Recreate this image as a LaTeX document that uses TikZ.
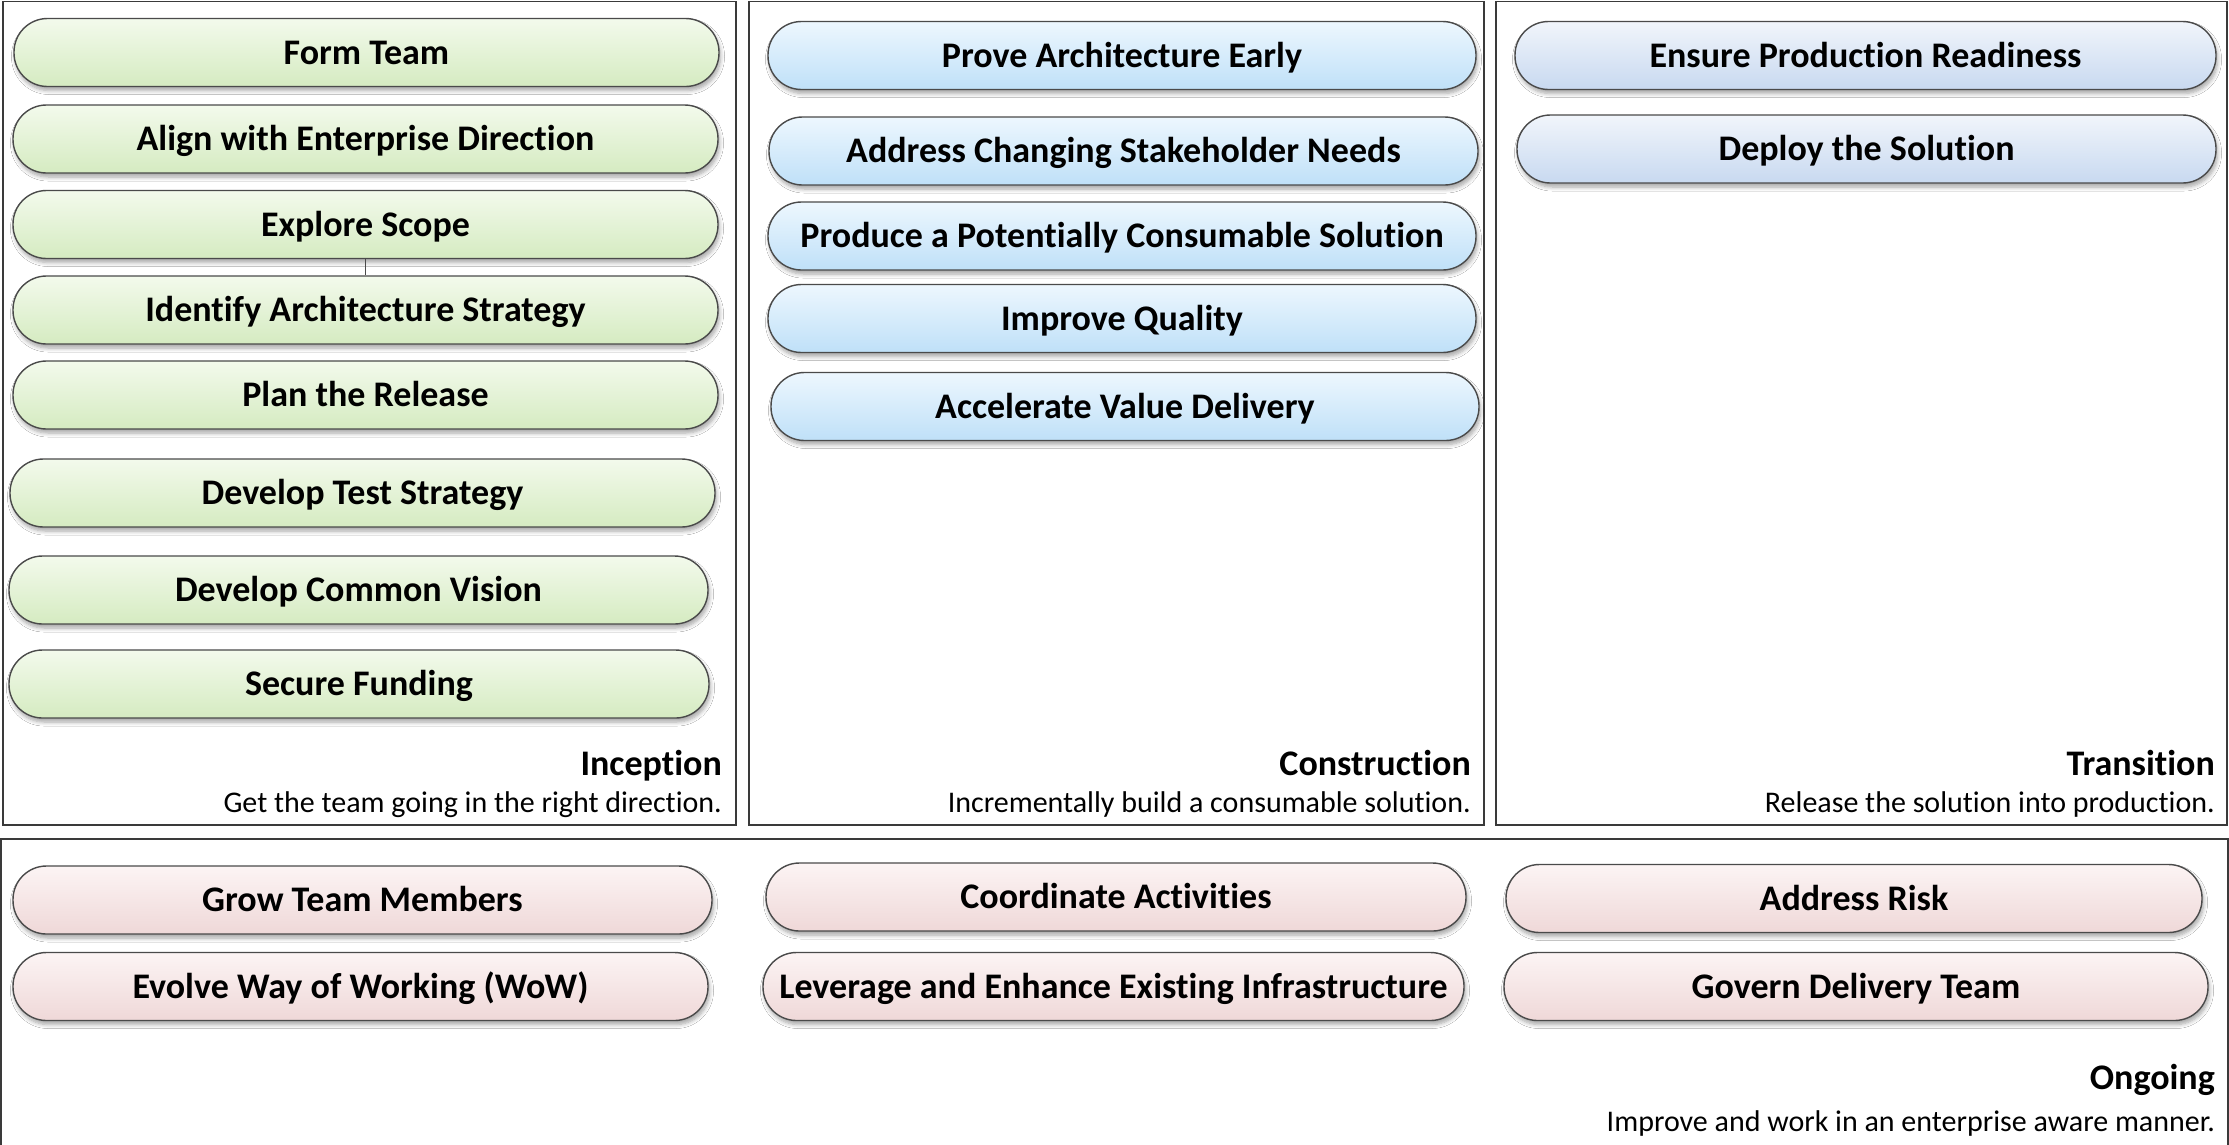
\documentclass[tikz,border=0pt]{standalone}
\usepackage{fontspec}
\setmainfont{Carlito}[RawFeature={-liga;-clig;-dlig}]
\usetikzlibrary{shadows.blur}
\definecolor{gtop}{HTML}{F3FAEC}
\definecolor{gbot}{HTML}{D5EBC1}
\definecolor{btop}{HTML}{EDF7FE}
\definecolor{bbot}{HTML}{BFE0F8}
\definecolor{ttop}{HTML}{F1F5FB}
\definecolor{tbot}{HTML}{C8D9F0}
\definecolor{ptop}{HTML}{FCF4F4}
\definecolor{pbot}{HTML}{EFD8D8}
\definecolor{pillline}{HTML}{4A4A4A}
\definecolor{panelline}{HTML}{3A3A3A}
\newcommand\pillfnt{\fontsize{36}{43}\selectfont\bfseries}
\newcommand\headfnt{\fontsize{36}{43}\selectfont\bfseries}
\newcommand\subfnt{\fontsize{30}{36}\selectfont}
\tikzset{
  pill/.style={draw=pillline, line width=1.4pt, rounded corners=33.5pt,
    minimum height=68pt, inner sep=0pt, text height=23.2pt, text depth=0pt,
    font=\pillfnt,
    blur shadow={shadow xshift=1.5pt, shadow yshift=-4pt, shadow blur radius=4pt,
      shadow opacity=35, shadow blur steps=6}},
  greenpill/.style={pill, top color=gtop, bottom color=gbot},
  bluepill/.style={pill, top color=btop, bottom color=bbot},
  transpill/.style={pill, top color=ttop, bottom color=tbot},
  pinkpill/.style={pill, top color=ptop, bottom color=pbot},
  panel/.style={draw=panelline, line width=1.3pt},
  head/.style={anchor=base east, font=\headfnt, inner sep=0pt},
  sub/.style={anchor=base east, font=\subfnt, inner sep=0pt},
  link/.style={draw=pillline, line width=1.2pt}
}
\begin{document}
\begin{tikzpicture}[x=1pt,y=-1pt]
\useasboundingbox (0,0) rectangle (2229,1144);
\fill[white] (0,0) rectangle (2229,1144);
% panels
\draw[panel] (3,1.5) rectangle (736,825);
\draw[panel] (749,1.5) rectangle (1484,825);
\draw[panel] (1496,1.5) rectangle (2227,825);
\draw[panel] (1,839) rectangle (2228,1160);
% Inception
\node[greenpill, minimum width=705pt] (ft) at (366.5,52.5) {Form Team};
\node[greenpill, minimum width=705pt] (al) at (365.5,139) {Align with Enterprise Direction};
\node[greenpill, minimum width=705pt] (es) at (365.5,224.5) {Explore Scope};
\node[greenpill, minimum width=705pt] (ia) at (365.5,310) {Identify Architecture Strategy};
\node[greenpill, minimum width=705pt] (pr) at (365.5,395) {Plan the Release};
\node[greenpill, minimum width=705pt] (dt) at (362.5,493) {Develop Test Strategy};
\node[greenpill, minimum width=699pt] (dv) at (358.5,590) {Develop Common Vision};
\node[greenpill, minimum width=700pt] (sf) at (359,684) {Secure Funding};
\draw[link] (es.south) -- (ia.north);
\node[head] (ih) at (722,775) {Inception};
\node[sub] (is) at (722,812) {Get the team going in the right direction.};
% Construction
\node[bluepill, minimum width=708pt] (pa) at (1122,55.5) {Prove Architecture Early};
\node[bluepill, minimum width=709pt] (ac) at (1123.5,151) {Address Changing Stakeholder Needs};
\node[bluepill, minimum width=708pt] (pp) at (1122,236) {Produce a Potentially Consumable Solution};
\node[bluepill, minimum width=708pt] (iq) at (1122,318.5) {Improve Quality};
\node[bluepill, minimum width=708pt] (av) at (1125,406.5) {Accelerate Value Delivery};
\node[head] (ch) at (1471,775) {Construction};
\node[sub] (cs) at (1471,812) {Incrementally build a consumable solution.};
% Transition
\node[transpill, minimum width=701pt] (ep) at (1865.5,55.5) {Ensure Production Readiness};
\node[transpill, minimum width=699pt] (ds) at (1866.5,149) {Deploy the Solution};
\node[head] (th) at (2215,775) {Transition};
\node[sub] (ts) at (2215,812) {Release the solution into production.};
% Ongoing
\node[pinkpill, minimum width=699pt] (gt) at (362.5,900) {Grow Team Members};
\node[pinkpill, minimum width=695pt] (ev) at (360.5,986.5) {Evolve Way of Working (WoW)};
\node[pinkpill, minimum width=700pt] (ca) at (1116,897) {Coordinate Activities};
\node[pinkpill, minimum width=701pt] (le) at (1113.5,986.5) {Leverage and Enhance Existing Infrastructure};
\node[pinkpill, minimum width=696pt] (ar) at (1854,898.5) {Address Risk};
\node[pinkpill, minimum width=704pt] (gd) at (1856,986.5) {Govern Delivery Team};
\node[head] (oh) at (2215,1089) {Ongoing};
\node[sub] (os) at (2215,1131) {Improve and work in an enterprise aware manner.};
\end{tikzpicture}
\end{document}
